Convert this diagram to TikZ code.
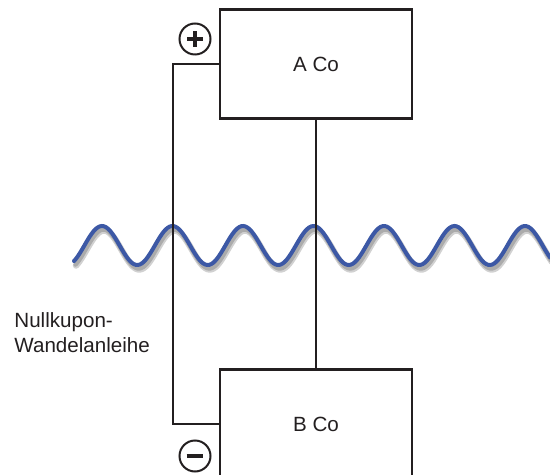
\documentclass[tikz,border=0pt]{standalone}
\usepackage{fontspec}
\setmainfont{Liberation Sans}
\definecolor{ola}{RGB}{60,88,165}
\definecolor{tinta}{RGB}{35,31,32}

\begin{document}
\begin{tikzpicture}[x=0.5pt, y=-0.5pt,
    font=\fontsize{10.3}{12.5}\selectfont,
    caja/.style={draw=tinta, line width=1.4pt, fill=white, text=tinta,
                 minimum width=96pt, minimum height=54.5pt, inner sep=0},
    signo/.style={circle, draw=tinta, line width=1pt, minimum size=15.5pt, inner sep=0},
    linea/.style={draw=tinta, line width=1pt}]
  % Marco
  \useasboundingbox (0,0) rectangle (550,475);
  \clip (0,0) rectangle (550,475);

  % Onda (con sombra)
  \draw[black, opacity=0.18, line width=3.2pt, line cap=round]
    plot[domain=74:550, samples=240, smooth] ({\x+2}, {250-19.5*cos(((\x-102)/70.5)*360)});
  \draw[black, opacity=0.18, line width=2.2pt, line cap=round]
    plot[domain=74:550, samples=240, smooth] ({\x+1.5}, {249-19.5*cos(((\x-102)/70.5)*360)});
  \draw[ola, line width=2pt, line cap=round]
    plot[domain=74:550, samples=240, smooth] (\x, {245.5-19.5*cos(((\x-102)/70.5)*360)});

  % Cajas
  \node[caja] (aco) at (316,64) {A Co};
  \node[caja] (bco) at (316,424) {B Co};
  \coordinate (riel) at (173,0);

  % Conexiones
  \draw[linea] (aco.south) -- (bco.north);
  \draw[linea] (aco.west) -- (aco.west -| riel) -- (bco.west -| riel) -- (bco.west);

  % Signos
  \node[signo] (mas) at (195,39) {};
  \draw[tinta, line width=2pt] ([xshift=-4pt]mas.center) -- ([xshift=4pt]mas.center)
    ([yshift=-4pt]mas.center) -- ([yshift=4pt]mas.center);
  \node[signo] (menos) at (195,456) {};
  \draw[tinta, line width=1.6pt] ([xshift=-4.2pt]menos.center) -- ([xshift=4.2pt]menos.center);

  % Texto
  \node[anchor=north west, align=left, inner sep=0, text=tinta] (bono) at (14,312)
    {Nullkupon-\\Wandelanleihe};
\end{tikzpicture}
\end{document}
